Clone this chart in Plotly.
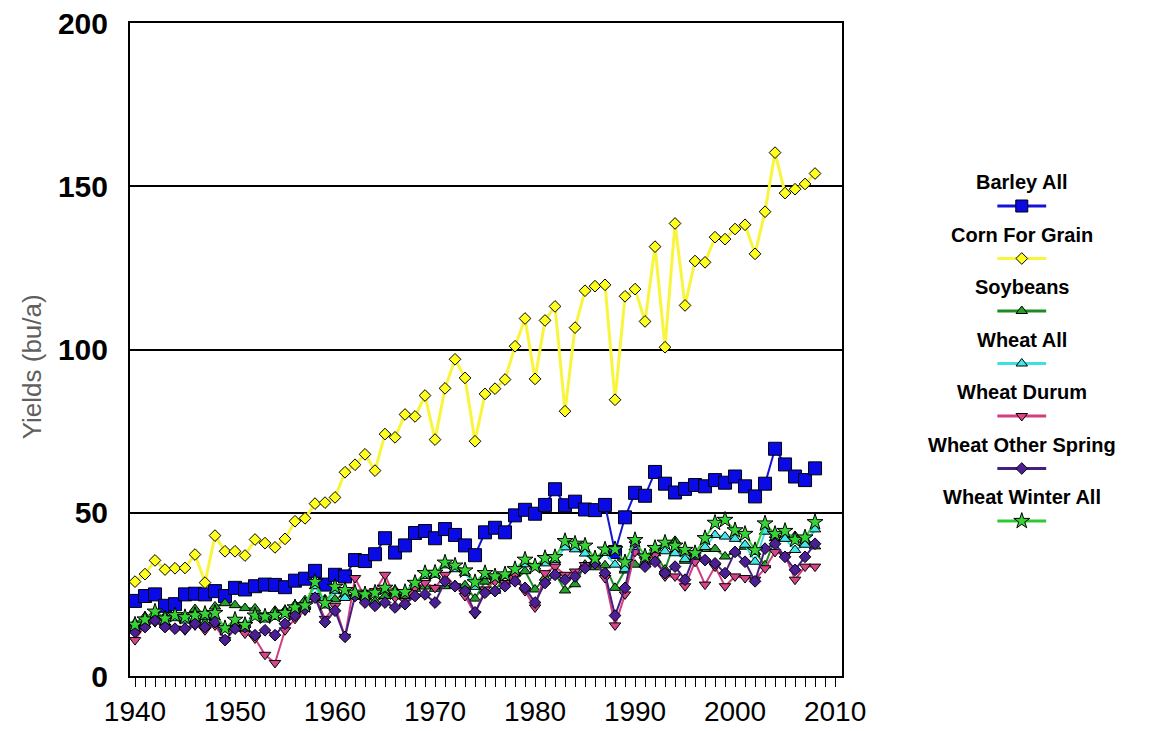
import plotly.graph_objects as go

# ---- data: national yields, bushels per acre, 1940-2008 ----
years = list(range(1940, 2009))

barley_all = [23.0, 24.5, 25.0, 21.5, 22.0, 25.0, 25.2, 25.0, 26.0, 24.5,
              27.0, 26.5, 27.5, 28.0, 27.9, 27.2, 29.2, 29.8, 32.2, 28.0,
              31.0, 30.5, 35.5, 35.2, 37.3, 42.2, 37.8, 40.0, 43.8, 44.4,
              42.2, 45.0, 43.2, 40.0, 37.0, 44.0, 45.4, 44.0, 49.2, 50.9,
              49.7, 52.4, 57.2, 52.3, 53.4, 51.0, 50.8, 52.4, 38.0, 48.6,
              56.1, 55.2, 62.5, 58.9, 56.2, 57.3, 58.5, 58.1, 60.0, 59.2,
              61.1, 58.1, 55.0, 58.9, 69.6, 64.8, 61.1, 60.0, 63.6]

corn_for_grain = [28.9, 31.2, 35.4, 32.6, 33.0, 33.1, 37.2, 28.6, 43.0, 38.2,
                  38.2, 36.9, 41.8, 40.7, 39.4, 42.0, 47.4, 48.3, 52.8, 53.1,
                  54.7, 62.4, 64.7, 67.9, 62.9, 74.1, 73.1, 80.1, 79.5, 85.9,
                  72.4, 88.1, 97.0, 91.3, 71.9, 86.4, 88.0, 90.8, 101.0, 109.5,
                  91.0, 108.9, 113.2, 81.1, 106.7, 118.0, 119.4, 119.8, 84.6, 116.3,
                  118.5, 108.6, 131.5, 100.7, 138.6, 113.5, 127.1, 126.7, 134.4, 133.8,
                  136.9, 138.2, 129.3, 142.2, 160.3, 147.9, 149.1, 150.7, 153.9]

soybeans = [16.2, 18.2, 19.0, 18.3, 18.8, 18.0, 20.5, 16.3, 21.3, 22.3,
            21.7, 20.8, 20.7, 18.2, 20.0, 20.1, 21.8, 23.2, 24.2, 23.5,
            23.5, 25.1, 24.2, 24.4, 22.8, 24.5, 25.4, 24.5, 26.7, 27.4,
            26.7, 27.5, 27.8, 27.8, 23.7, 28.9, 26.1, 30.6, 29.4, 32.1,
            26.5, 30.1, 31.5, 26.2, 28.1, 34.1, 33.3, 33.9, 27.0, 32.3,
            34.1, 34.2, 37.6, 32.6, 41.4, 35.3, 37.6, 38.9, 38.9, 36.6,
            38.1, 39.6, 38.0, 33.9, 42.2, 43.1, 42.9, 41.7, 39.7]

wheat_all = [15.3, 16.8, 19.5, 16.4, 17.7, 17.0, 17.2, 18.2, 17.9, 14.5,
             16.5, 16.0, 18.4, 17.3, 18.1, 19.8, 20.2, 21.8, 27.5, 21.6,
             26.1, 23.9, 25.0, 25.2, 25.8, 26.5, 26.3, 25.8, 28.4, 30.6,
             31.0, 33.9, 32.7, 31.6, 27.3, 30.6, 30.3, 30.7, 31.4, 34.2,
             33.5, 34.5, 35.5, 39.4, 38.8, 37.5, 34.4, 37.7, 34.1, 32.7,
             39.5, 34.3, 39.3, 38.2, 37.6, 35.8, 36.3, 39.5, 43.2, 42.7,
             42.0, 40.2, 35.0, 44.2, 43.2, 42.0, 38.6, 40.2, 44.9]

wheat_durum = [11.0, 15.5, 16.5, 15.0, 14.5, 14.0, 15.5, 14.0, 15.5, 11.0,
               14.5, 13.0, 11.5, 6.5, 4.0, 14.0, 17.5, 20.0, 24.5, 17.5,
               21.5, 12.0, 30.0, 24.0, 26.0, 31.0, 24.0, 23.0, 27.0, 28.5,
               27.0, 31.0, 27.5, 24.5, 19.0, 26.5, 29.0, 28.5, 31.0, 26.0,
               21.0, 31.5, 33.5, 31.0, 32.0, 34.0, 35.5, 30.0, 15.5, 25.0,
               38.0, 35.5, 37.0, 30.5, 30.5, 27.5, 35.0, 28.0, 33.5, 27.5,
               30.5, 30.0, 29.5, 33.0, 38.0, 37.0, 29.5, 33.5, 33.5]

wheat_other_spring = [13.5, 15.0, 17.0, 15.0, 14.5, 14.5, 16.0, 15.0, 16.5, 11.0,
                      14.5, 15.0, 12.5, 14.0, 12.5, 16.0, 18.5, 20.5, 24.0, 16.5,
                      20.0, 12.0, 24.5, 22.5, 21.5, 22.5, 21.0, 22.0, 24.5, 25.0,
                      22.5, 29.0, 27.5, 26.0, 19.5, 25.5, 26.0, 27.5, 29.0, 27.0,
                      22.5, 28.5, 31.0, 29.5, 30.5, 33.0, 34.5, 31.5, 18.5, 27.0,
                      41.0, 33.5, 35.0, 31.5, 33.5, 29.5, 37.5, 35.5, 34.5, 31.5,
                      38.0, 35.0, 29.0, 39.0, 40.5, 36.5, 32.5, 36.5, 40.5]

wheat_winter_all = [15.7, 17.3, 19.7, 17.6, 18.6, 18.0, 18.6, 19.0, 19.3, 14.6,
                    17.2, 15.6, 18.5, 18.2, 18.6, 19.3, 21.0, 21.6, 28.8, 22.3,
                    27.3, 26.3, 25.5, 25.0, 25.5, 27.0, 25.5, 25.7, 28.5, 31.5,
                    31.6, 34.7, 33.8, 32.3, 28.7, 31.5, 30.5, 31.1, 32.7, 35.6,
                    33.6, 36.1, 36.4, 41.3, 40.5, 39.9, 36.0, 38.7, 38.8, 34.8,
                    41.6, 36.6, 39.2, 40.8, 39.9, 38.6, 37.6, 42.2, 46.9, 47.8,
                    44.6, 43.5, 38.5, 46.7, 43.5, 44.4, 41.7, 42.4, 47.1]

series_names = ["Barley All", "Corn For Grain", "Soybeans", "Wheat All",
                "Wheat Durum", "Wheat Other Spring", "Wheat Winter All"]
series_values = [barley_all, corn_for_grain, soybeans, wheat_all,
                 wheat_durum, wheat_other_spring, wheat_winter_all]

y_ticks = [0, 50, 100, 150, 200]
x_tick_labels = [1940, 1950, 1960, 1970, 1980, 1990, 2000, 2010]

# ---- styles per series: (line colour, marker fill, symbol, marker size, line width) ----
styles = [
    ("#1414d8", "#0a0ae6", "square", 13, 2),
    ("#f8f53c", "#ffff1e", "diamond", 9, 3),
    ("#1e8a24", "#23a02a", "triangle-up", 10, 2),
    ("#3ce0e0", "#40e8e8", "triangle-up", 10, 2),
    ("#d23c80", "#d8448a", "triangle-down", 10, 2),
    ("#43207f", "#4a1f96", "diamond", 9, 2),
    ("#30c830", "#36d236", "star", 12, 2),
]

FONT = "Liberation Sans, Arial, sans-serif"
W, H = 1162, 731
L, R_PLOT, T, B = 130, 859, 23, 676
main_domain_end = (R_PLOT - L) / (W - L)

fig = go.Figure()

for name, vals, (lc, mc, sym, ms, lw) in zip(series_names, series_values, styles):
    fig.add_trace(go.Scatter(
        x=years, y=vals, name=name, mode="lines+markers",
        line=dict(color=lc, width=lw),
        marker=dict(symbol=sym, size=ms, color=mc,
                    line=dict(color="black", width=1)),
        showlegend=False, xaxis="x", yaxis="y",
    ))

# ---- legend panel drawn on a pixel-scaled helper axis pair ----
leg_x0 = 914.0
leg_cx = 1043
row_text = 182
row_gap = 52.5
for i, (name, (lc, mc, sym, ms, lw)) in enumerate(zip(series_names, styles)):
    ty = row_text + i * row_gap
    sy = ty + 24
    fig.add_trace(go.Scatter(
        x=[leg_cx - 25, leg_cx, leg_cx + 25], y=[sy, sy, sy],
        mode="lines+markers",
        line=dict(color=lc, width=3),
        marker=dict(symbol=sym, size=ms if sym != "square" else 12, color=mc,
                    opacity=[0, 1, 0], line=dict(color="black", width=1)),
        showlegend=False, hoverinfo="skip", xaxis="x2", yaxis="y2",
    ))
    fig.add_annotation(x=leg_cx, y=ty, xref="x2", yref="y2", text=name,
                       showarrow=False, xanchor="center", yanchor="middle",
                       font=dict(family=FONT, size=20, color="black", weight="bold"))

fig.add_annotation(x=(30 - L) / (W - L), y=(B - 367) / (B - T), xref="paper", yref="paper",
                   text="Yields (bu/a)", textangle=-90, showarrow=False,
                   xanchor="center", yanchor="middle",
                   font=dict(family=FONT, size=26, color="#5f5f5f"))

fig.update_layout(
    width=W, height=H,
    margin=dict(l=L, r=0, t=T, b=H - B, pad=0),
    paper_bgcolor="white", plot_bgcolor="white",
    showlegend=False,
    xaxis=dict(
        domain=[0, main_domain_end], range=[1939.5, 2010.7],
        tickvals=x_tick_labels, ticktext=[str(v) for v in x_tick_labels],
        ticks="outside", ticklen=9, tickwidth=1, tickcolor="black",
        minor=dict(dtick=1, tick0=1940, ticks="outside", ticklen=9, tickcolor="black", tickwidth=1),
        showgrid=False, zeroline=False,
        showline=True, linecolor="black", linewidth=2, mirror=True,
        tickfont=dict(family=FONT, size=28, color="black"),
    ),
    yaxis=dict(
        domain=[0, 1], range=[0, 200], tickvals=y_ticks,
        ticks="", showgrid=True, gridcolor="black", gridwidth=2,
        zeroline=False, showline=True, linecolor="black", linewidth=2, mirror=True,
        tickfont=dict(family=FONT, size=30, color="black", weight="bold"),
        ticklabelstandoff=14,
    ),
    xaxis2=dict(domain=[(leg_x0 - L) / (W - L), 1.0], range=[leg_x0, W],
                visible=False, fixedrange=True, anchor="y2"),
    yaxis2=dict(domain=[0, 1], range=[B, T], visible=False, fixedrange=True, anchor="x2"),
)

fig.write_html("out.html")
